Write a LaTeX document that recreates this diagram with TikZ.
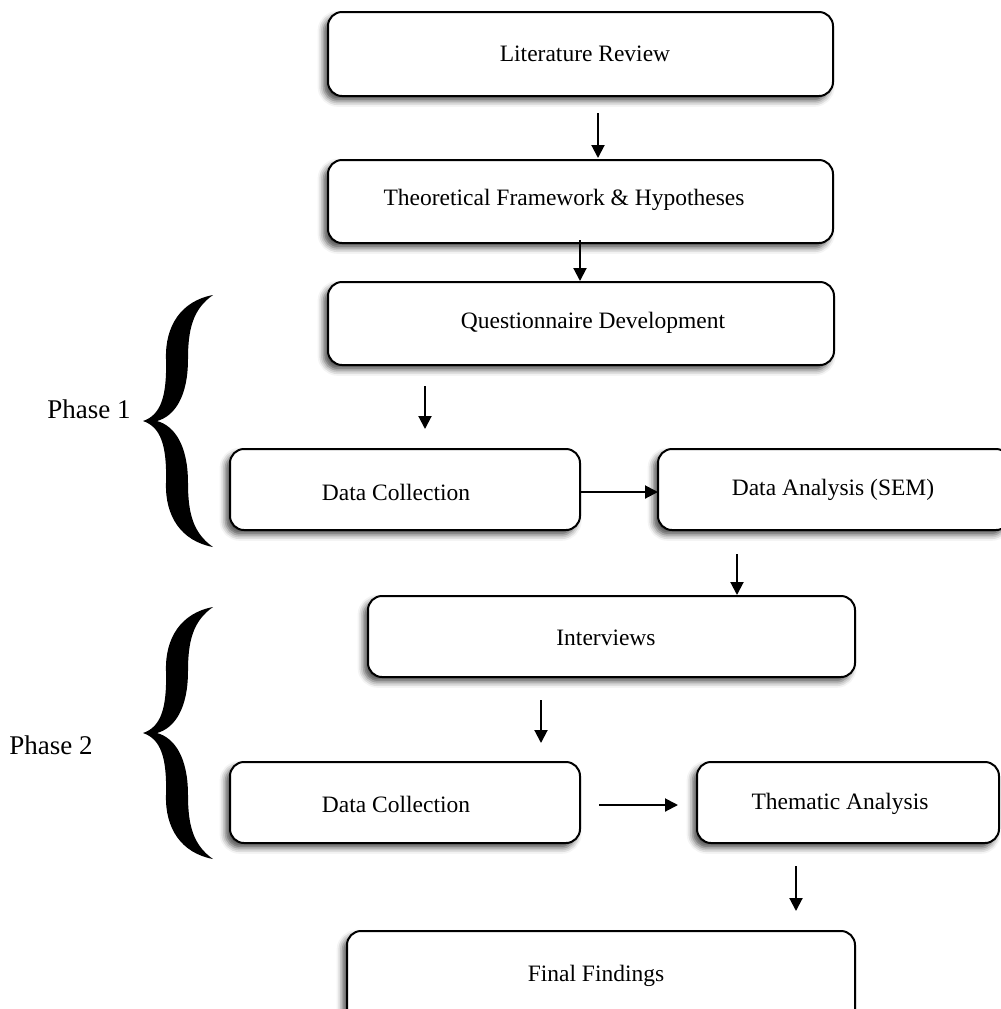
\documentclass[tikz,border=0pt]{standalone}
\usepackage{fontspec}
\setmainfont{Liberation Serif}
\usetikzlibrary{arrows.meta,shadows.blur}

\tikzset{
  stage/.style={draw=black, line width=1pt, rounded corners=7pt, fill=white,
    inner sep=0pt,
    blur shadow={shadow xshift=-2.2pt, shadow yshift=-2.4pt,
                 shadow blur radius=3pt, shadow opacity=70}},
  caption/.style={font=\fontsize{11.75}{14}\selectfont, inner sep=0pt},
  phaselabel/.style={font=\fontsize{13.5}{16}\selectfont, inner sep=0pt},
  flow/.style={line width=1pt, -{Triangle[length=6.5pt,width=6.5pt]}},
  bracefill/.style={fill=black, draw=none}
}

% curly brace drawn around its middle tip at (0,0), reaching 126 units up and down
\newcommand{\phasebrace}{%
  (70,-126)
  .. controls (38,-120) and (22,-95) .. (23,-62)
  .. controls (24,-25) and (18,-6) .. (0,0)
  .. controls (18,6) and (24,25) .. (23,62)
  .. controls (22,95) and (38,120) .. (70,126)
  .. controls (50,112) and (45,92) .. (45,62)
  .. controls (45,25) and (32,5) .. (14,0)
  .. controls (32,-5) and (45,-25) .. (45,-62)
  .. controls (45,-92) and (50,-112) .. (70,-126) -- cycle}

\begin{document}
\begin{tikzpicture}[x=0.5pt, y=-0.5pt]
  \useasboundingbox (0,0) rectangle (1001,1009);
  \clip (0,0) rectangle (1001,1009);

  % stage boxes
  \node[stage, minimum width=252.5pt, minimum height=42pt]   (lr)  at (580.5,54)   {};
  \node[stage, minimum width=252.5pt, minimum height=41.5pt] (tf)  at (580.5,201.5) {};
  \node[stage, minimum width=253pt,   minimum height=41.5pt] (qd)  at (581,323.5)  {};
  \node[stage, minimum width=175pt,   minimum height=40.5pt] (dc1) at (405,489.5)  {};
  \node[stage, minimum width=176pt,   minimum height=40.5pt] (da)  at (834,489.5)  {};
  \node[stage, minimum width=243.5pt, minimum height=40.5pt] (iv)  at (611.5,636.5) {};
  \node[stage, minimum width=175pt,   minimum height=40.5pt] (dc2) at (405,802.5)  {};
  \node[stage, minimum width=151pt,   minimum height=40.5pt] (ta)  at (848,802.5)  {};
  \node[stage, minimum width=254pt,   minimum height=49pt]   (ff)  at (601,980)    {};

  % stage texts
  \node[caption] (tlr)  at (585,54)  {Literature Review};
  \node[caption] (ttf)  at (564,200) {Theoretical Framework \& Hypotheses};
  \node[caption] (tqd)  at (593,323) {Questionnaire Development};
  \node[caption] (tdc1) at (396,492) {Data Collection};
  \node[caption] (tda)  at (833,490) {Data Analysis (SEM)};
  \node[caption] (tiv)  at (606,638) {Interviews};
  \node[caption] (tdc2) at (396,804) {Data Collection};
  \node[caption] (tta)  at (840,804) {Thematic Analysis};
  \node[caption] (tff)  at (596,976) {Final Findings};

  % free-standing arrows between the stages
  \coordinate (a1s) at (598,113); \coordinate (a1e) at (598,158);
  \coordinate (a2s) at (580,240); \coordinate (a2e) at (580,281);
  \coordinate (a3s) at (425,386); \coordinate (a3e) at (425,429);
  \coordinate (a4s) at (580,492); \coordinate (a4e) at (658,492);
  \coordinate (a5s) at (737,554); \coordinate (a5e) at (737,595);
  \coordinate (a6s) at (541,700); \coordinate (a6e) at (541,743);
  \coordinate (a7s) at (599,805); \coordinate (a7e) at (678,805);
  \coordinate (a8s) at (796,866); \coordinate (a8e) at (796,911);
  \foreach \k in {1,...,8} { \draw[flow] (a\k s) -- (a\k e); }

  % phase braces and labels
  \fill[bracefill, shift={(143,421)}] \phasebrace;
  \fill[bracefill, shift={(143,733)}] \phasebrace;
  \node[phaselabel] (p1) at (89,409) {Phase 1};
  \node[phaselabel] (p2) at (51,745) {Phase 2};
\end{tikzpicture}
\end{document}
